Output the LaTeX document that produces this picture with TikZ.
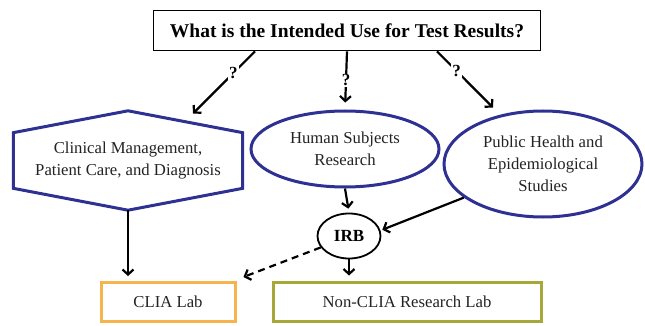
\documentclass[tikz,border=0pt]{standalone}
\usepackage{fontspec}
\setmainfont{Liberation Serif}
\usetikzlibrary{arrows.meta,
                calc,
                shapes.geometric}
\definecolor{hexblue}{RGB}{46,49,146}
\definecolor{cliaorange}{RGB}{248,180,76}
\definecolor{labolive}{RGB}{166,168,58}
\definecolor{txtgray}{RGB}{35,35,35}

\begin{document}
\begin{tikzpicture}[
x = 1pt, y = -1pt,
            > = {Straight Barb[length=5pt, width=11pt]},
every node/.append style = {text=txtgray, align=center,
                            font=\fontsize{16.7}{22}\selectfont},
     Q/.style = {draw=black, line width=1.8pt, minimum width=387pt, minimum height=40pt,
                 font=\bfseries\fontsize{19.5}{22}\selectfont, text=black},
     H/.style = {minimum width=229pt, minimum height=99pt},
     E/.style = {ellipse, draw=hexblue, line width=3pt, inner sep=0pt},
     L/.style = {draw, line width=3pt, minimum height=39pt},
     A/.style = {->, line width=2.2pt, draw=black},
    QM/.style = {fill=white, inner sep=1pt, text=black,
                 font=\bfseries\fontsize{17}{17}\selectfont}
                    ]
\useasboundingbox (0,0) rectangle (645,326);
\node (q)    [Q] at (347,30.5)  {What is the Intended Use for Test Results?};
\node (clin) [H] at (128,160.5) {Clinical Management,\\ Patient Care, and Diagnosis};
\node (hum)  [E, minimum width=188pt, minimum height=76pt] at (345,149)
             {Human Subjects\\ Research};
\node (pub)  [E, minimum width=198pt, minimum height=106pt] at (543,164)
             {Public Health and\\ Epidemiological\\ Studies};
\node (irb)  [E, draw=black, line width=1.8pt, minimum width=63pt, minimum height=45pt,
              font=\bfseries\fontsize{17}{18}\selectfont, text=black] at (349,236) {IRB};
\node (clia) [L, draw=cliaorange, minimum width=134pt] at (168,302) {CLIA Lab};
\node (ncl)  [L, draw=labolive, minimum width=268pt] at (407,301.5) {Non-CLIA Research Lab};
% hexagon round the clinical text
\draw[hexblue, line width=3pt, line join=miter]
      (clin.north) -- ($(clin.north east)!0.22!(clin.south east)$)
                   -- ($(clin.north east)!0.78!(clin.south east)$)
                   -- (clin.south)
                   -- ($(clin.north west)!0.78!(clin.south west)$)
                   -- ($(clin.north west)!0.22!(clin.south west)$) -- cycle;
%
\draw[A] ([xshift=-92pt]q.south) -- node[QM, pos=0.35] {?}
         ([shift={(65pt,47pt)}]clin.center);
\draw[A, shorten >=7pt] (q.south) -- node[QM] {?} (hum.north);
\draw[A] ([xshift=90pt]q.south) -- node[QM, pos=0.35] {?}
         ([shift={(-50pt,2pt)}]pub.north);
\draw[A, shorten >=5pt] (clin.south) -- (clin.south |- clia.north);
\draw[A, shorten >=4pt] (hum.south) -- (irb.north);
\draw[A, shorten >=2pt] (pub.203) -- (irb.10);
\draw[A, shorten >=5pt] (irb.south) -- (irb.south |- ncl.north);
\draw[A, dashed, dash pattern=on 7pt off 5pt]
     (irb.202) -- ([shift={(7pt,4pt)}]clia.north east);
\end{tikzpicture}
\end{document}
